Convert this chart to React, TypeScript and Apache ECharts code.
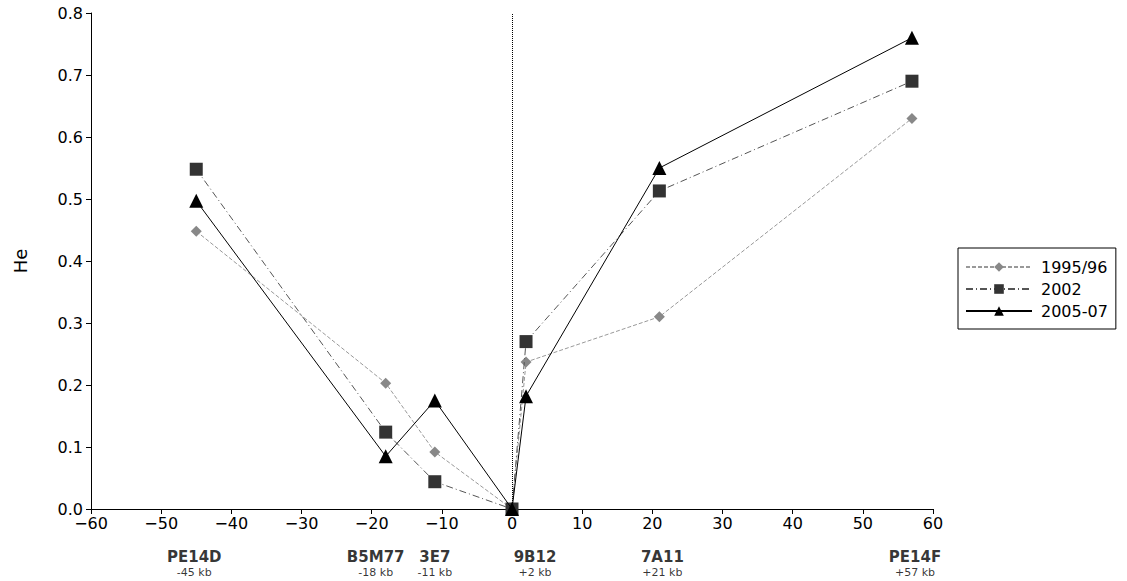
import React, { useEffect, useRef } from "react";
import * as echarts from "echarts";

const positionsKb = [-45, -18, -11, 0, 2, 21, 57];
const he1995 = [0.448, 0.203, 0.092, 0, 0.237, 0.31, 0.63];
const he2002 = [0.548, 0.124, 0.044, 0, 0.27, 0.513, 0.69];
const he2005 = [0.497, 0.085, 0.175, 0, 0.182, 0.55, 0.76];

const markerNames = ["PE14D", "B5M77", "3E7", "9B12", "7A11", "PE14F"];
const markerPos = [-45, -18, -11, 2, 21, 57];
const markerKb = ["-45 kb", "-18 kb", "-11 kb", "+2 kb", "+21 kb", "+57 kb"];
const markerLabelShift = [-2, -10, 0, 9, 3, 3];

const FONT = "DejaVu Sans";

export default function App() {
  const ref = useRef<HTMLDivElement>(null);
  useEffect(() => {
    if (!ref.current) return;
    const chart = echarts.init(ref.current, undefined, { renderer: "svg" });
    const pair = (ys: number[]) => positionsKb.map((x, i) => [x, ys[i]]);
    chart.setOption({
      animation: false,
      backgroundColor: "#fff",
      textStyle: { fontFamily: FONT },
      grid: { left: 91, right: 194, top: 13, bottom: 72 },
      legend: {
        orient: "vertical",
        left: 958,
        top: 248,
        itemWidth: 66,
        itemHeight: 12,
        itemGap: 6,
        padding: [11, 8, 10, 7],
        borderColor: "#000",
        borderWidth: 1,
        borderRadius: 0,
        textStyle: { fontSize: 16, color: "#000", fontFamily: FONT, padding: [0, 0, 0, 4] },
        data: ["1995/96", "2002", "2005-07"],
      },
      xAxis: {
        type: "value",
        min: -60,
        max: 60,
        interval: 10,
        splitLine: { show: false },
        axisLine: { onZero: false, lineStyle: { color: "#000", width: 1 } },
        axisTick: { show: true, length: 5, lineStyle: { color: "#000" } },
        axisLabel: {
          color: "#000",
          fontSize: 16,
          margin: 6,
          fontFamily: FONT,
          formatter: (v: number) => (v < 0 ? "\u2212" + Math.abs(v) : String(v)),
        },
      },
      yAxis: {
        type: "value",
        min: 0,
        max: 0.8,
        interval: 0.1,
        name: "He",
        nameLocation: "middle",
        nameGap: 62,
        nameTextStyle: { fontSize: 18, color: "#000", fontFamily: FONT },
        splitLine: { show: false },
        axisLine: { show: true, onZero: false, lineStyle: { color: "#000", width: 1 } },
        axisTick: { show: true, length: 5, lineStyle: { color: "#000" } },
        axisLabel: {
          color: "#000",
          fontSize: 16,
          margin: 8,
          fontFamily: FONT,
          formatter: (v: number) => v.toFixed(1),
        },
      },
      series: [
        {
          name: "1995/96",
          type: "line",
          data: pair(he1995),
          symbol: "diamond",
          symbolSize: 11,
          itemStyle: { color: "#888888" },
          lineStyle: { color: "#999999", width: 1, type: [4, 2] },
          z: 2,
        },
        {
          name: "2002",
          type: "line",
          data: pair(he2002),
          symbol: "rect",
          symbolSize: 13,
          itemStyle: { color: "#333333" },
          lineStyle: { color: "#555555", width: 1, type: [7, 3, 1, 3] },
          z: 3,
        },
        {
          name: "2005-07",
          type: "line",
          data: pair(he2005),
          symbol: "triangle",
          symbolSize: 14,
          itemStyle: { color: "#000000" },
          lineStyle: { color: "#000000", width: 1, type: "solid" },
          z: 4,
          markLine: {
            silent: true,
            symbol: "none",
            label: { show: false },
            lineStyle: { color: "#000", width: 1, type: [1, 1] },
            data: [{ xAxis: 0 }],
          },
        },
        {
          name: "markers",
          type: "scatter",
          silent: true,
          symbolSize: 0,
          clip: false,
          data: markerPos.map((x, i) => ({
            value: [x, 0],
            label: {
              show: true,
              position: "bottom",
              distance: 39,
              offset: [markerLabelShift[i], 0],
              formatter: "{a|" + markerNames[i] + "}\n{b|" + markerKb[i] + "}",
              rich: {
                a: { fontSize: 15, fontWeight: "bold", lineHeight: 17, color: "#000", fontFamily: FONT, align: "center" },
                b: { fontSize: 11, lineHeight: 14, color: "#000", fontFamily: FONT, align: "center" },
              },
            },
          })),
        },
      ],
    });
    return () => chart.dispose();
  }, []);
  return (
    <div
      ref={ref}
      style={{ position: "absolute", left: 0, top: 0, width: 1127, height: 581 }}
    />
  );
}
